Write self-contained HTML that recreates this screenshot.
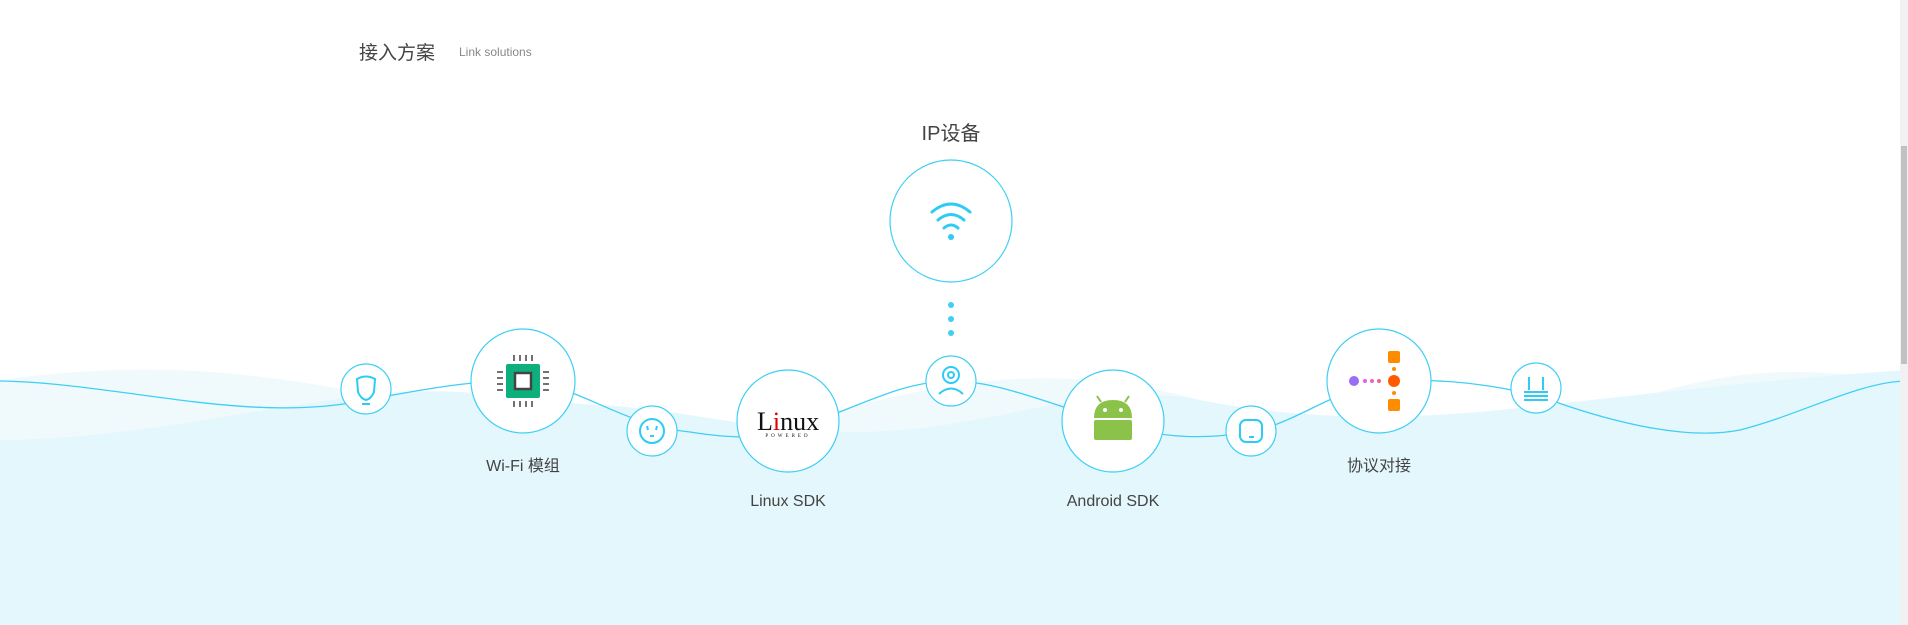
<!DOCTYPE html>
<html><head><meta charset="utf-8"><style>
html,body{margin:0;padding:0;background:#fff;}
body{width:1908px;height:625px;position:relative;overflow:hidden;font-family:"Liberation Sans","Noto Sans CJK SC",sans-serif;}
.t{position:absolute;white-space:nowrap;color:#444;}
</style></head><body>
<svg width="1908" height="625" style="position:absolute;left:0;top:0">
<path d="M0 380 C150 360 250 370 400 400 S650 460 800 420 S1050 360 1200 400 S1450 460 1600 410 S1800 370 1908 380 L1908 625 L0 625Z" fill="#f0fafd"/>
<path d="M0 440 C100 440 200 420 330 400 S500 400 600 405 S780 440 900 430 S1100 380 1200 400 S1400 420 1500 410 S1750 380 1908 370 L1908 625 L0 625Z" fill="#e4f7fd"/>
<path d="M0 381 C120 383 250 425 366 400 C420 390 470 380 523 381 C580 385 620 425 690 432 C740 440 780 440 820 420 C870 400 910 381 951 381 C1000 381 1050 405 1110 421 C1160 440 1210 440 1260 430 C1310 415 1340 385 1400 381 C1460 378 1520 390 1550 400 C1620 425 1690 440 1740 430 C1800 415 1860 381 1908 381" fill="none" stroke="#3ecff5" stroke-width="1.3"/>
<g fill="#fff" stroke="#3ecff5" stroke-width="1.2">
<circle cx="951" cy="221" r="61"/>
<circle cx="951" cy="381" r="25"/>
<circle cx="523" cy="381" r="52"/>
<circle cx="366" cy="389" r="25"/>
<circle cx="652" cy="431" r="25"/>
<circle cx="788" cy="421" r="51"/>
<circle cx="1113" cy="421" r="51"/>
<circle cx="1251" cy="431" r="25"/>
<circle cx="1379" cy="381" r="52"/>
<circle cx="1536" cy="388" r="25"/>
</g>
<g fill="#3ecff5"><circle cx="951" cy="305" r="3"/><circle cx="951" cy="319" r="3"/><circle cx="951" cy="333" r="3"/></g>
<g fill="none" stroke="#2ecbf5" stroke-width="3" stroke-linecap="round">
<path d="M932 212 Q951 196 970 212"/><path d="M938 220 Q951 209 964 220"/><path d="M944 228 Q951 222 958 228"/>
</g><circle cx="951" cy="237" r="3" fill="#2ecbf5"/>
<g fill="none" stroke="#2ecbf5" stroke-width="2"><circle cx="951" cy="375" r="8"/><circle cx="951" cy="375" r="3"/><path d="M939 394 Q951 383 963 394"/></g>
<g fill="none" stroke="#2ecbf5" stroke-width="2"><path d="M357 379 Q366 374 375 379 L374 392 Q371 399 366 400 Q361 399 358 392Z"/><path d="M362 404 H370"/></g>
<g fill="none" stroke="#2ecbf5" stroke-width="2"><circle cx="652" cy="431" r="12"/><path d="M647 426 L648 430 M657 426 L656 430 M650 436 H654"/></g>
<rect x="1240" y="420" width="22" height="22" rx="6" fill="none" stroke="#2ecbf5" stroke-width="2"/><path d="M1249 437 H1254" stroke="#2ecbf5" stroke-width="2"/>
<g stroke="#2ecbf5" stroke-width="2"><path d="M1529 377 V390 M1543 377 V390 M1524 392 H1548 M1524 396 H1548 M1524 400 H1548"/></g>
<rect x="506" y="364" width="34" height="34" rx="2" fill="#0db07d"/>
<rect x="515" y="373" width="16" height="16" fill="#fff" stroke="#444" stroke-width="2.5"/>
<g stroke="#444" stroke-width="1.5"><path d="M514 355v6 M520 355v6 M526 355v6 M532 355v6 M514 401v6 M520 401v6 M526 401v6 M532 401v6 M497 372h6 M497 378h6 M497 384h6 M497 390h6 M543 372h6 M543 378h6 M543 384h6 M543 390h6"/></g>
<path d="M1094 418 Q1094 400 1113 400 Q1132 400 1132 418Z" fill="#8bc34a"/>
<rect x="1094" y="420" width="38" height="20" rx="2" fill="#8bc34a"/>
<g stroke="#8bc34a" stroke-width="2"><path d="M1101 402 L1097 396 M1125 402 L1129 396"/></g>
<circle cx="1105" cy="410" r="2" fill="#fff"/><circle cx="1121" cy="410" r="2" fill="#fff"/>
<circle cx="1354" cy="381" r="5" fill="#9b6cf5"/>
<circle cx="1365" cy="381" r="2" fill="#e45ef0"/><circle cx="1372" cy="381" r="2" fill="#f060c0"/><circle cx="1379" cy="381" r="2" fill="#f5608a"/>
<circle cx="1394" cy="381" r="6" fill="#ff5a00"/>
<rect x="1388" y="351" width="12" height="12" rx="2" fill="#ff8c00"/><rect x="1388" y="399" width="12" height="12" rx="2" fill="#ff8c00"/>
<circle cx="1394" cy="369" r="2" fill="#ff8c00"/><circle cx="1394" cy="393" r="2" fill="#ff8c00"/>
<text x="788" y="430" font-family="Liberation Serif,serif" font-size="26" text-anchor="middle" fill="#111">L<tspan fill="#d00">i</tspan>nux</text>
<text x="788" y="437" font-family="Liberation Serif,serif" font-size="5" letter-spacing="3" text-anchor="middle" fill="#111">POWERED</text>
</svg>
<div class="t" style="left:359px;top:38px;font-size:19px;color:#444">接入方案</div>
<div class="t" style="left:459px;top:45px;font-size:12px;color:#888">Link solutions</div>
<div class="t" style="left:951px;top:117px;font-size:20px;transform:translateX(-50%)">IP设备</div>
<div class="t" style="left:523px;top:452px;font-size:16px;transform:translateX(-50%)">Wi-Fi 模组</div>
<div class="t" style="left:788px;top:493px;font-size:16px;transform:translateX(-50%)">Linux SDK</div>
<div class="t" style="left:1113px;top:493px;font-size:16px;transform:translateX(-50%)">Android SDK</div>
<div class="t" style="left:1379px;top:452px;font-size:16px;transform:translateX(-50%)">协议对接</div>
<div style="position:absolute;left:1900px;top:0;width:8px;height:625px;background:#f1f1f1"></div>
<div style="position:absolute;left:1901px;top:146px;width:6px;height:218px;background:#c1c1c1"></div>
</body></html>
